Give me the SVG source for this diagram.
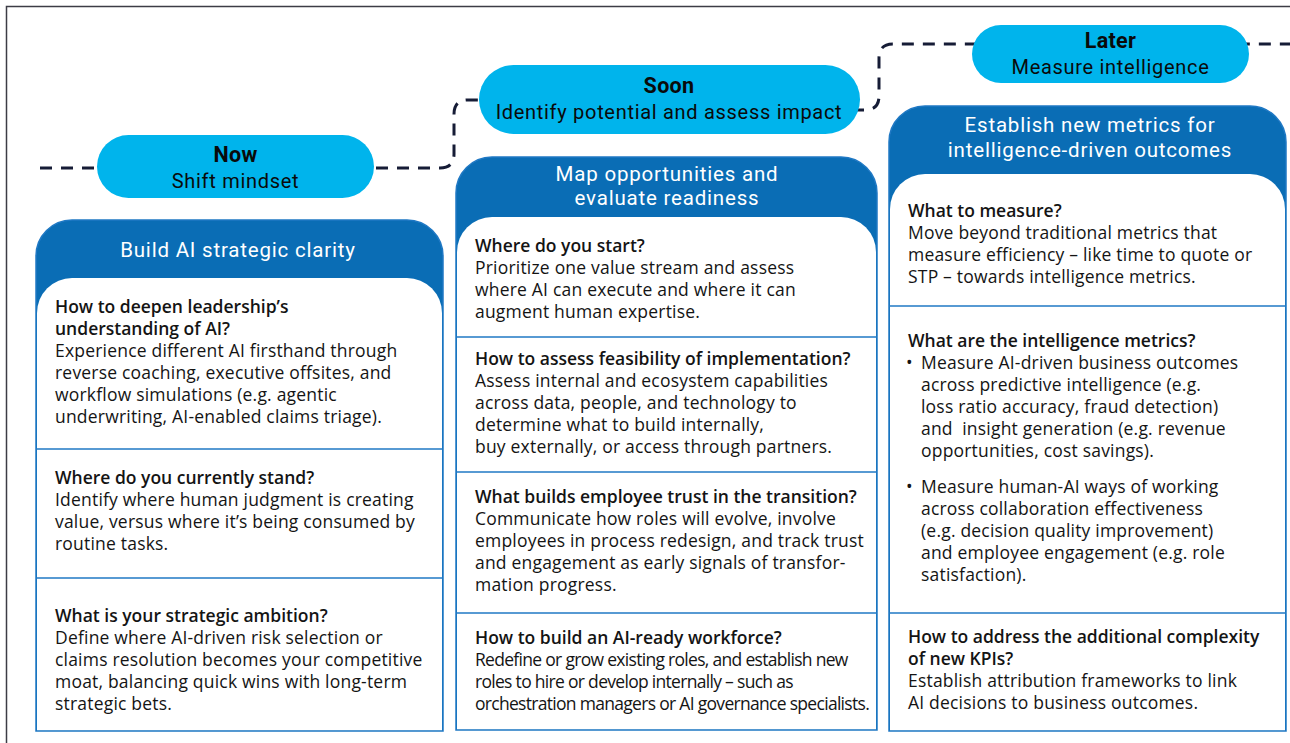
<svg xmlns="http://www.w3.org/2000/svg" width="1290" height="743" viewBox="0 0 1290 743">
<defs>
<style>
.frame{fill:none;stroke:#3c3c46;stroke-width:1.5}
.dash{fill:none;stroke:#161c36;stroke-width:3;stroke-dasharray:12 9}
.pill{fill:#00b4ec}
.pt{font-family:Roboto,"Open Sans",sans-serif;fill:#0a0a0a;text-anchor:middle}
.pb{font-weight:700;font-size:21.5px;letter-spacing:0.3px}
.ps{font-size:20px;letter-spacing:0.7px}
.outer{fill:#0a6db5;stroke:#1f78c4;stroke-width:1.5}
.inner{fill:#ffffff}
.div{stroke:#1f78c4;stroke-width:1.5}
.ct{font-family:Roboto,"Open Sans",sans-serif;fill:#ffffff;font-size:20.5px;letter-spacing:0.8px;text-anchor:middle}
.t{font-family:"Open Sans","Noto Sans",sans-serif;fill:#141414;font-size:17.5px;letter-spacing:0.2px}
.b{font-weight:600;letter-spacing:0px}
.cond{letter-spacing:-0.7px}
</style>
</defs>
<rect width="1290" height="743" fill="#ffffff"/>
<path class="frame" d="M6.5,743 V6.5 H1290"/>
<g id="connectors">
<path class="dash" d="M40,168 H440 Q454,168 454,154 V114 Q454,100 468,100 H485"/>
<path class="dash" d="M852,110 H865 Q879,110 879,96 V58 Q879,44 893,44 H1290"/>
</g>
<g id="pill-now">
<rect class="pill" x="97" y="135" width="277" height="63" rx="31.5"/>
<text class="pt pb" x="235.5" y="162">Now</text>
<text class="pt ps" x="235.5" y="188">Shift mindset</text>
</g>
<g id="pill-soon">
<rect class="pill" x="479" y="65" width="381" height="69" rx="34.5"/>
<text class="pt pb" x="669" y="93">Soon</text>
<text class="pt ps" x="669" y="119">Identify potential and assess impact</text>
</g>
<g id="pill-later">
<rect class="pill" x="972" y="25" width="277" height="58" rx="29"/>
<text class="pt pb" x="1110.5" y="48">Later</text>
<text class="pt ps" x="1110.5" y="74">Measure intelligence</text>
</g>
<g id="card-now">
<path class="outer" d="M36,731 V256 A36,36 0 0 1 72,220 H407 A36,36 0 0 1 443,256 V731 Z"/>
<path class="inner" d="M37,730.2 V313 A35,35 0 0 1 72,278 H407 A35,35 0 0 1 442,313 V730.2 Z"/>
<line class="div" x1="36" y1="449" x2="443" y2="449"/>
<line class="div" x1="36" y1="578" x2="443" y2="578"/>
<text class="ct" x="238" y="257">Build AI strategic clarity</text>
<text class="t b" x="55" y="313">How to deepen leadership’s</text>
<text class="t b" x="55" y="335">understanding of AI?</text>
<text class="t" x="55" y="357">Experience different AI firsthand through</text>
<text class="t" x="55" y="379">reverse coaching, executive offsites, and</text>
<text class="t" x="55" y="401">workflow simulations (e.g. agentic</text>
<text class="t" x="55" y="423">underwriting, AI-enabled claims triage).</text>
<text class="t b" x="55" y="484">Where do you currently stand?</text>
<text class="t" x="55" y="506">Identify where human judgment is creating</text>
<text class="t" x="55" y="528">value, versus where it’s being consumed by</text>
<text class="t" x="55" y="550">routine tasks.</text>
<text class="t b" x="55" y="622">What is your strategic ambition?</text>
<text class="t" x="55" y="644">Define where AI-driven risk selection or</text>
<text class="t" x="55" y="666">claims resolution becomes your competitive</text>
<text class="t" x="55" y="688">moat, balancing quick wins with long-term</text>
<text class="t" x="55" y="710">strategic bets.</text>
</g>
<g id="card-soon">
<path class="outer" d="M456,730 V193 A36,36 0 0 1 492,157 H841 A36,36 0 0 1 877,193 V730 Z"/>
<path class="inner" d="M457,729.2 V252 A35,35 0 0 1 492,217 H841 A35,35 0 0 1 876,252 V729.2 Z"/>
<line class="div" x1="456" y1="337" x2="877" y2="337"/>
<line class="div" x1="456" y1="472" x2="877" y2="472"/>
<line class="div" x1="456" y1="613" x2="877" y2="613"/>
<text class="ct" x="667" y="181">Map opportunities and</text>
<text class="ct" x="667" y="205">evaluate readiness</text>
<text class="t b" x="475" y="252">Where do you start?</text>
<text class="t" x="475" y="274">Prioritize one value stream and assess</text>
<text class="t" x="475" y="296">where AI can execute and where it can</text>
<text class="t" x="475" y="318">augment human expertise.</text>
<text class="t b" x="475" y="365">How to assess feasibility of implementation?</text>
<text class="t" x="475" y="387">Assess internal and ecosystem capabilities</text>
<text class="t" x="475" y="409">across data, people, and technology to</text>
<text class="t" x="475" y="431">determine what to build internally,</text>
<text class="t" x="475" y="453">buy externally, or access through partners.</text>
<text class="t b" x="475" y="503">What builds employee trust in the transition?</text>
<text class="t" x="475" y="525">Communicate how roles will evolve, involve</text>
<text class="t" x="475" y="547">employees in process redesign, and track trust</text>
<text class="t" x="475" y="569">and engagement as early signals of transfor-</text>
<text class="t" x="475" y="591">mation progress.</text>
<text class="t b" x="475" y="644">How to build an AI-ready workforce?</text>
<text class="t cond" x="475" y="666">Redefine or grow existing roles, and establish new</text>
<text class="t cond" x="475" y="688">roles to hire or develop internally – such as</text>
<text class="t cond" x="475" y="710">orchestration managers or AI governance specialists.</text>
</g>
<g id="card-later">
<path class="outer" d="M889,731 V142 A36,36 0 0 1 925,106 H1250 A36,36 0 0 1 1286,142 V731 Z"/>
<path class="inner" d="M890,730.2 V209 A35,35 0 0 1 925,174 H1250 A35,35 0 0 1 1285,209 V730.2 Z"/>
<line class="div" x1="889" y1="306" x2="1286" y2="306"/>
<line class="div" x1="889" y1="613" x2="1286" y2="613"/>
<text class="ct" x="1090" y="132">Establish new metrics for</text>
<text class="ct" x="1090" y="157">intelligence-driven outcomes</text>
<text class="t b" x="908" y="217">What to measure?</text>
<text class="t" x="908" y="239">Move beyond traditional metrics that</text>
<text class="t" x="908" y="261">measure efficiency – like time to quote or</text>
<text class="t" x="908" y="283">STP – towards intelligence metrics.</text>
<text class="t b" x="908" y="347">What are the intelligence metrics?</text>
<text class="t" x="906" y="369">•</text>
<text class="t" x="921" y="369">Measure AI-driven business outcomes</text>
<text class="t" x="921" y="391">across predictive intelligence (e.g.</text>
<text class="t" x="921" y="413">loss ratio accuracy, fraud detection)</text>
<text class="t" x="921" y="435" xml:space="preserve">and  insight generation (e.g. revenue</text>
<text class="t" x="921" y="457">opportunities, cost savings).</text>
<text class="t" x="906" y="493">•</text>
<text class="t" x="921" y="493">Measure human-AI ways of working</text>
<text class="t" x="921" y="515">across collaboration effectiveness</text>
<text class="t" x="921" y="537">(e.g. decision quality improvement)</text>
<text class="t" x="921" y="559">and employee engagement (e.g. role</text>
<text class="t" x="921" y="581">satisfaction).</text>
<text class="t b" x="908" y="643">How to address the additional complexity</text>
<text class="t b" x="908" y="665">of new KPIs?</text>
<text class="t" x="908" y="687">Establish attribution frameworks to link</text>
<text class="t" x="908" y="709">AI decisions to business outcomes.</text>
</g>
</svg>
